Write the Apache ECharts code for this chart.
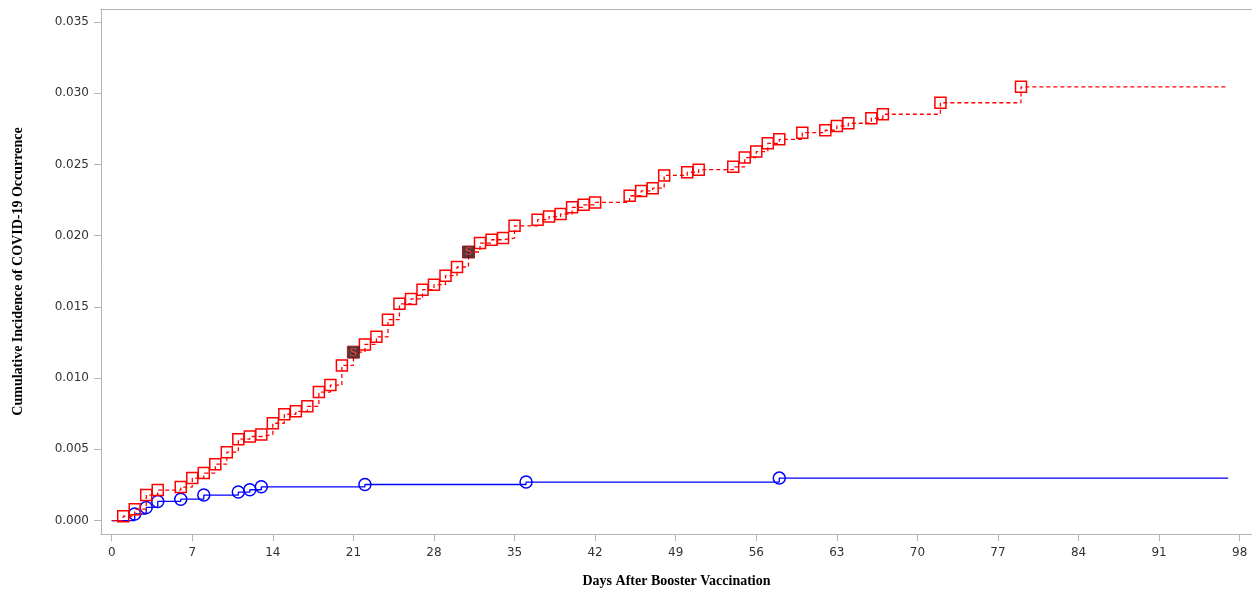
<!DOCTYPE html>
<html>
<head>
<meta charset="utf-8">
<script src="https://cdn.jsdelivr.net/npm/echarts@6/dist/echarts.min.js"></script>
<style>html,body{margin:0;padding:0;background:#fff}#c{width:1252px;height:593px}</style>
</head>
<body>
<div id="c"></div>
<script>
// Red group (dashed, squares)
const redDays = [1,2,3,4,6,7,8,9,10,11,12,13,14,15,16,17,18,19,20,21,22,23,24,25,26,27,28,29,30,31,32,33,34,35,37,38,39,40,41,42,45,46,47,48,50,51,54,55,56,57,58,60,62,63,64,66,67,72,79];
const redVals = [0.00030,0.00080,0.00179,0.00214,0.00235,0.00298,0.00333,0.00396,0.00480,0.00571,0.00590,0.00604,0.00683,0.00746,0.00767,0.00802,0.00902,0.00951,0.01089,0.01182,0.01236,0.01290,0.01410,0.01521,0.01556,0.01621,0.01656,0.01719,0.01780,0.01885,0.01948,0.01971,0.01983,0.02069,0.02112,0.02134,0.02152,0.02199,0.02216,0.02233,0.02280,0.02314,0.02333,0.02423,0.02445,0.02463,0.02483,0.02548,0.02590,0.02648,0.02676,0.02723,0.02740,0.02770,0.02789,0.02824,0.02852,0.02933,0.03045];
const redSpecialDays = [21,31];
// Blue group (solid, circles)
const blueDays = [2,3,4,6,8,11,12,13,22,36,58];
const blueVals = [0.00046,0.00092,0.00134,0.00150,0.00179,0.00200,0.00216,0.00237,0.00253,0.00270,0.00298];
const lastDay = 97;
const xTicks = [0,7,14,21,28,35,42,49,56,63,70,77,84,91,98];
const yTicks = [0,0.005,0.010,0.015,0.020,0.025,0.030,0.035];

function buildData(days, vals, skip) {
  const d = [{value:[0,0], symbol:'none'}];
  days.forEach((x,i)=>{
    if (skip && skip.indexOf(x) >= 0) d.push({value:[x, vals[i]], symbol:'none'});
    else d.push([x, vals[i]]);
  });
  d.push({value:[lastDay, vals[vals.length-1]], symbol:'none'});
  return d;
}
const specialData = redSpecialDays.map(x => [x, redVals[redDays.indexOf(x)]]);

const X_MIN = -0.93, X_MAX = 99.07;
const chart = echarts.init(document.getElementById('c'), null, {renderer:'canvas'});
const tickFont = {fontFamily:'DejaVu Sans', fontSize:12, color:'#333'};
const axisGray = '#b4b4b4';
chart.setOption({
  animation:false,
  grid:{left:101, right:0, top:9, bottom:58, show:false, containLabel:false},
  xAxis:[{
    type:'value', min:X_MIN, max:X_MAX,
    name:'Days After Booster Vaccination', nameLocation:'middle', nameGap:40,
    nameTextStyle:{fontFamily:'Liberation Serif', fontWeight:'bold', fontSize:14, color:'#000'},
    axisLine:{show:true, onZero:false, lineStyle:{color:axisGray, width:1}},
    axisTick:{show:true, inside:false, length:7, lineStyle:{color:axisGray}, customValues:xTicks},
    axisLabel:Object.assign({customValues:xTicks, margin:13}, tickFont),
    splitLine:{show:false}
  },{
    type:'value', position:'top', min:X_MIN, max:X_MAX,
    axisLine:{show:true, onZero:false, lineStyle:{color:axisGray, width:1}},
    axisTick:{show:false}, axisLabel:{show:false}, splitLine:{show:false}
  }],
  yAxis:{
    type:'value', min:-0.000945, max:0.03591,
    name:'Cumulative Incidence of COVID-19 Occurrence', nameLocation:'middle', nameGap:76, nameRotate:90,
    nameTextStyle:{fontFamily:'Liberation Serif', fontWeight:'bold', fontSize:14, color:'#000'},
    axisLine:{show:true, onZero:false, lineStyle:{color:axisGray, width:1}},
    axisTick:{show:true, inside:false, length:7, lineStyle:{color:axisGray}, customValues:yTicks},
    axisLabel:Object.assign({customValues:yTicks, margin:12, formatter:v=>v.toFixed(3)}, tickFont),
    splitLine:{show:false}
  },
  series:[
    {
      type:'line', step:'end', data:buildData(blueDays, blueVals),
      symbol:'circle', symbolSize:12, showAllSymbol:true, z:2,
      lineStyle:{color:'#0000ff', width:1.3},
      itemStyle:{color:'rgba(0,0,0,0)', borderColor:'#0000ff', borderWidth:1.5}
    },
    {
      type:'line', step:'end', data:buildData(redDays, redVals, redSpecialDays),
      symbol:'rect', symbolSize:11, showAllSymbol:true, z:3,
      lineStyle:{color:'#ff0000', width:1.3, type:[4,3]},
      itemStyle:{color:'rgba(0,0,0,0)', borderColor:'#ff0000', borderWidth:1.5}
    },
    {
      type:'scatter', data:specialData, symbol:'rect', symbolSize:12, z:4,
      itemStyle:{color:'#300606', borderColor:'#a00000', borderWidth:1},
      label:{show:true, position:'inside', formatter:'S', color:'#ff4848', textBorderWidth:0, fontWeight:'bold', fontSize:13, fontFamily:'Liberation Serif'},
      labelLayout:{hideOverlap:false}
    }
  ]
});
</script>
</body>
</html>
